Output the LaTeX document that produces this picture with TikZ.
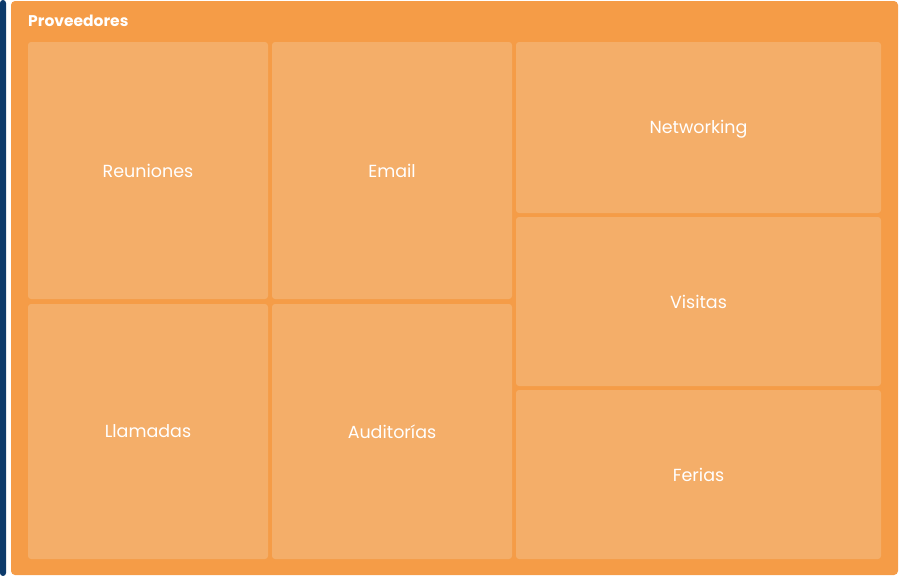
\documentclass[tikz,border=0pt]{standalone}
\usepackage{fontspec}
\setmainfont{Poppins}
\begin{document}
\begin{tikzpicture}[x=1pt,y=-1pt,
  tile/.style={fill=tilec, rounded corners=3pt, draw=none},
  lbl/.style={text=white, font=\fontsize{17.5}{19}\selectfont, anchor=center, inner sep=0pt},
]
\definecolor{outerc}{HTML}{F59C47}
\definecolor{tilec}{HTML}{F4AE69}
\definecolor{barc}{HTML}{0C3A6B}
\useasboundingbox (0,0) rectangle (903,576);
\fill[barc, rounded corners=3pt] (0,0) rectangle (6,576);
\fill[outerc, rounded corners=4pt] (11,1) rectangle (898,575);
\node[anchor=west, text=white, font=\bfseries\fontsize{15.5}{17}\selectfont, inner sep=0pt] (title) at (28,20.5) {Proveedores};
\fill[tile] (28,42) rectangle (268,299);
\fill[tile] (28,304) rectangle (268,559);
\fill[tile] (272,42) rectangle (512,299);
\fill[tile] (272,304) rectangle (512,559);
\fill[tile] (516,42) rectangle (881,213);
\fill[tile] (516,217) rectangle (881,386);
\fill[tile] (516,390) rectangle (881,559);
\node[lbl] (reu) at (148,170.5) {Reuniones};
\node[lbl] (lla) at (148,431.5) {Llamadas};
\node[lbl] (ema) at (392,170.5) {Email};
\node[lbl] (aud) at (392,431.5) {Auditorías};
\node[lbl] (net) at (698.5,129) {Networking};
\node[lbl] (vis) at (698.5,301.5) {Visitas};
\node[lbl] (fer) at (698.5,474.5) {Ferias};
\end{tikzpicture}
\end{document}
